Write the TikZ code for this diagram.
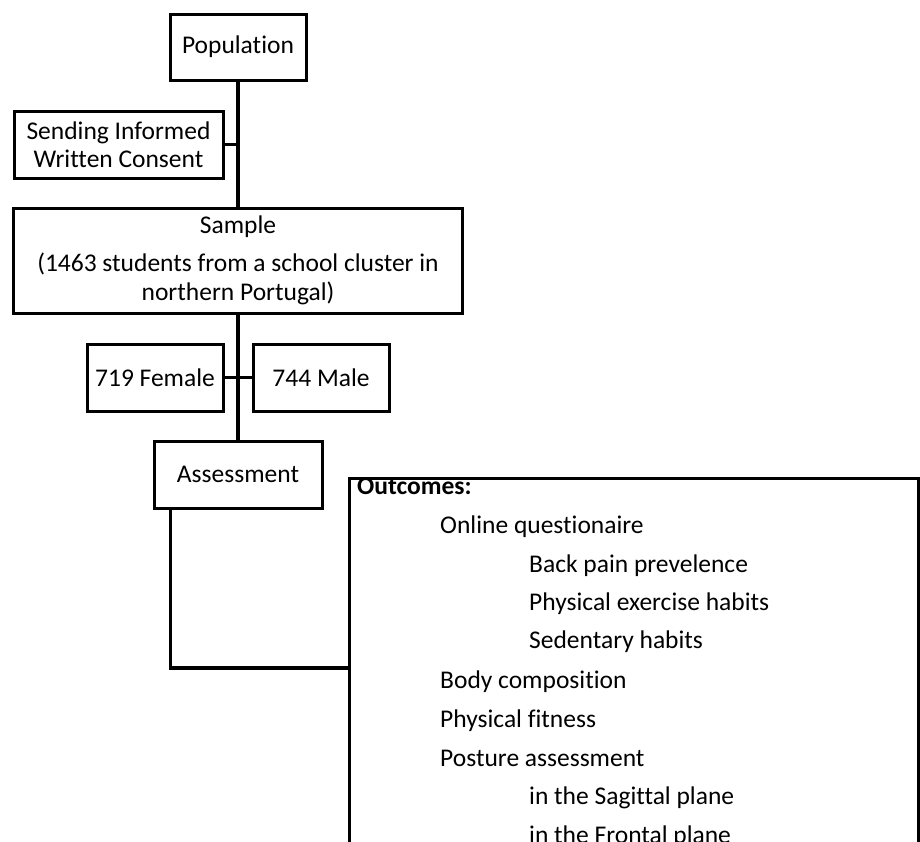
\documentclass[tikz,border=0pt]{standalone}
\usepackage{fontspec}
\setmainfont[Ligatures={NoCommon}]{Carlito}
\begin{document}
\begin{tikzpicture}[x=1pt,y=-1pt,
  box/.style={draw, line width=3pt, inner sep=0pt, align=center, font=\fontsize{25.5}{29}\selectfont},
  conn/.style={line width=3.2pt},
  lbl/.style={anchor=base west, inner sep=0pt, font=\fontsize{25.5}{30}\selectfont}]
\useasboundingbox (0,0) rectangle (920,841);
\clip (0,0) rectangle (920,841);

\node[box, minimum width=136pt, minimum height=66pt] (pop) at (238,47) {Population};
\node[box, minimum width=209pt, minimum height=67pt, font=\fontsize{25.5}{28}\selectfont] (consent) at (118.5,144.5) {Sending Informed\\Written Consent};
\node[box, minimum width=449pt, minimum height=105pt] (sample) at (238,260.5) {Sample\\[9pt](1463 students from a school cluster in\\northern Portugal)};
\node[box, minimum width=136pt, minimum height=67pt] (female) at (155,377.5) {719 Female};
\node[box, minimum width=136pt, minimum height=67pt] (male) at (321,377.5) {744 Male};
\node[box, minimum width=168pt, minimum height=67pt] (assess) at (238,474.5) {Assessment};
\node[box, minimum width=569pt, minimum height=422pt] (out) at (633.5,689) {};

\draw[conn] (pop.south) -- (sample.north);
\draw[conn] (consent.east) -- (consent.east -| pop.south);
\draw[conn] (sample.south) -- (assess.north);
\draw[conn] (female.east) -- (male.west);
\coordinate (j) at (349,668);
\draw[conn] ([xshift=18pt]assess.south west) |- (j);

\node[lbl, font=\fontsize{25.5}{30}\selectfont\bfseries] (o0) at (357,494) {Outcomes:};
\node[lbl] (o1) at (440,533) {Online questionaire};
\node[lbl] (o2) at (529,572) {Back pain prevelence};
\node[lbl] (o3) at (529,610) {Physical exercise habits};
\node[lbl] (o4) at (529,648) {Sedentary habits};
\node[lbl] (o5) at (440,688) {Body composition};
\node[lbl] (o6) at (440,727) {Physical fitness};
\node[lbl] (o7) at (440,766) {Posture assessment};
\node[lbl] (o8) at (529,804) {in the Sagittal plane};
\node[lbl] (o9) at (529,843) {in the Frontal plane};
\end{tikzpicture}
\end{document}
